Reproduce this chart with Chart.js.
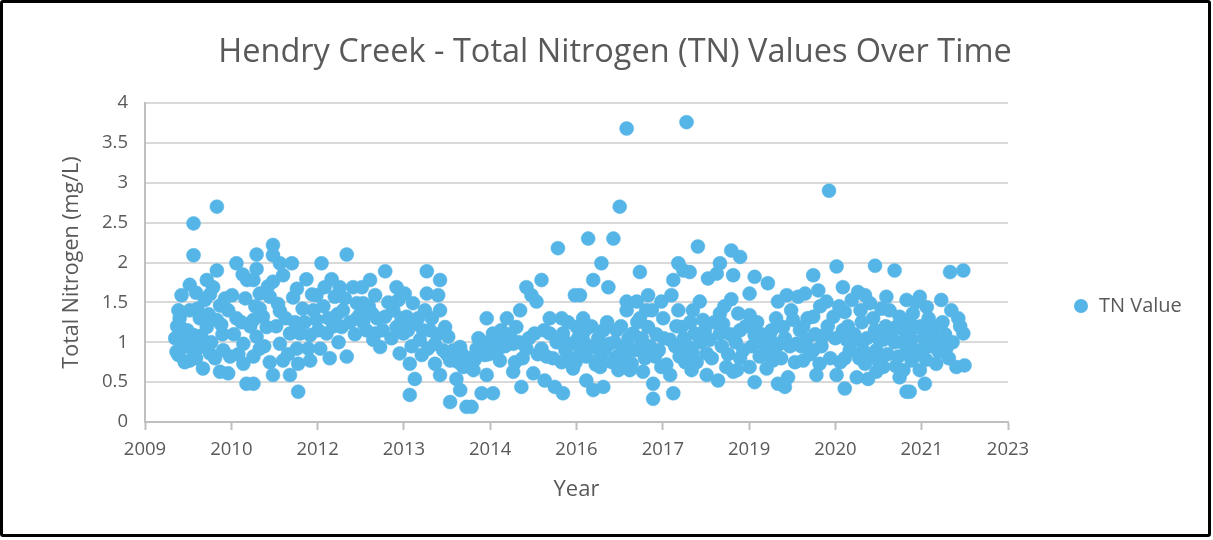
<!DOCTYPE html>
<html><head><meta charset="utf-8">
<script src="https://cdn.jsdelivr.net/npm/chart.js@4.4.1/dist/chart.umd.min.js"></script>
<style>
html,body{margin:0;padding:0;background:#fff;}
#wrap{position:relative;width:1213px;height:540px;overflow:hidden;background:#fff;}
#c{position:absolute;left:0;top:0;}
#frame{position:absolute;left:0;top:0;width:1211px;height:537px;border:3px solid #000;box-sizing:border-box;pointer-events:none;border-radius:3px;}
</style></head><body>
<div id="wrap"><canvas id="c" width="1213" height="540"></canvas><div id="frame"></div></div>
<script>
const chartTitle = 'Hendry Creek - Total Nitrogen (TN) Values Over Time';
const seriesName = 'TN Value';
const xTitle = 'Year';
const yTitle = 'Total Nitrogen (mg/L)';
const tickLabels = ['2009','2010','2012','2013','2014','2016','2017','2019','2020','2021','2023'];
const X_MIN = 2009.47;
const X_STEP = 500 / 365.25;

// sample dates (decimal years)
const sampleYears = [
 2010.61,2010.24,2010.24,2010.92,2010.61,2011.02,2011.09,2010.45,2010.18,2010.05,
 2010.55,2010.85,2010.42,2010.00,2010.18,2010.66,2010.79,2010.92,2010.34,2010.03,
 2010.45,2010.61,2010.24,2011.03,2010.08,2010.00,2010.34,2010.50,2010.18,2010.39,
 2010.71,2010.82,2010.66,2010.79,2011.03,2011.08,2009.98,2009.97,2010.12,2010.28,
 2010.50,2010.70,
 2011.50,2011.24,2011.50,2012.67,2011.24,2011.61,2011.80,2012.27,2011.19,2011.50,
 2011.66,2012.03,2012.43,2011.88,2011.29,2012.19,2012.32,2012.56,2012.77,2011.82,
 2011.45,2012.48,2011.29,2011.61,2012.14,2012.61,2012.83,2011.19,2011.40,2012.19,
 2012.59,2012.83,2011.24,2011.61,2011.77,2011.93,2012.09,2012.35,2012.54,2011.29,
 2011.19,2011.45,2011.66,2011.88,2012.06,2012.25,2012.09,2011.90,2012.40,2012.67,
 2011.50,2011.77,2011.19,2011.90,
 2013.28,2013.94,2013.04,2014.15,2012.91,2013.46,2013.12,2013.59,2013.94,2014.12,
 2012.93,2013.49,2013.72,2014.15,2013.07,2013.28,2013.41,2013.62,2013.91,2012.93,
 2013.46,2013.75,2013.99,2014.23,2013.12,2013.20,2013.09,2013.57,2013.83,2014.07,
 2014.28,2014.47,2013.51,2013.86,2013.67,2014.07,2014.31,2014.15,2014.52,2013.75,
 2014.41,2014.47,2013.67,2014.31,2014.57,
 2016.02,2015.76,2015.52,2015.60,2016.29,2015.68,2015.42,2014.89,2015.21,2015.89,
 2016.08,2014.99,2015.36,2015.65,2015.89,2016.10,2016.32,2015.15,2015.31,2015.52,
 2015.76,2016.21,2014.73,2014.86,2015.10,2015.84,2016.08,2016.26,2015.31,2015.63,
 2014.89,2014.68,2015.81,2015.97,2016.10,2015.44,2014.99,2014.81,2014.65,
 2017.11,2018.06,2017.00,2016.50,2016.90,2016.71,2017.32,2017.93,2016.58,2016.82,
 2017.85,2018.01,2016.37,2017.45,2017.82,2017.11,2017.27,2017.66,2017.11,2017.51,
 2017.93,2016.42,2017.32,2017.69,2016.74,2016.95,2017.45,2017.98,2017.21,2017.80,
 2016.42,2016.61,2016.84,2017.05,2017.32,2016.47,2016.69,2016.95,2017.19,2017.56,
 2017.95,2016.69,2017.37,2017.66,2017.80,2016.47,2016.74,2016.58,2017.53,2017.53,
 2017.85,
 2018.24,2018.77,2018.91,2018.59,2018.11,2018.40,2018.54,2018.80,2019.14,2019.35,
 2019.06,2018.77,2018.27,2019.51,2019.65,2019.83,2018.16,2018.32,2018.59,2018.88,
 2019.06,2018.64,2018.91,2019.14,2019.41,2019.59,2019.75,2018.19,2018.43,2018.59,
 2019.28,2019.54,2019.80,2018.16,2018.38,2018.69,2018.91,2019.22,2019.43,2018.14,
 2018.38,2018.56,2018.80,2019.06,2019.14,2019.33,2019.51,2019.67,2019.62,
 2020.32,2020.44,2021.05,2021.36,2020.07,2019.94,2020.15,2020.54,2020.78,2020.89,
 2021.23,2021.55,2020.28,2020.68,2020.97,2020.57,2021.15,2021.28,2020.07,2020.39,
 2020.84,2021.44,2019.91,2020.25,2020.54,2021.05,2021.52,2019.96,2020.60,2020.76,
 2021.18,2021.36,2020.07,2020.86,2021.07,2021.55,2019.91,2020.17,2020.57,2020.89,
 2021.18,2021.42,2020.12,2020.44,2020.57,2020.76,2020.94,2021.07,2021.44,2021.55,
 2022.24,2022.45,2021.76,2022.10,2022.26,2022.37,2022.45,2021.65,2021.87,2021.71,
 2021.92,2022.13,2022.18,2021.81,2021.63,2022.02,2021.76,2022.34,2022.47,2021.84,
 2021.60
];

// total nitrogen, mg/L
const tnValues = [
 2.70,2.49,2.09,1.99,1.90,1.85,1.78,1.78,1.72,1.59,
 1.69,1.59,1.53,1.40,1.40,1.46,1.40,1.30,1.30,1.19,
 1.19,1.28,1.09,0.98,0.94,0.84,0.94,0.86,0.77,0.67,
 0.90,0.82,0.63,0.61,0.73,0.48,1.20,0.88,1.05,0.80,
 1.60,1.10,
 2.22,2.10,2.09,2.10,1.92,1.99,1.99,1.99,1.78,1.76,
 1.84,1.79,1.79,1.67,1.61,1.59,1.69,1.69,1.69,1.56,
 1.57,1.57,1.42,1.39,1.40,1.40,1.49,1.28,1.19,1.28,
 1.19,1.30,1.07,0.98,1.11,1.11,1.09,1.11,1.00,0.92,
 0.82,0.75,0.77,0.92,0.92,0.92,0.77,0.73,0.80,0.82,
 0.59,0.59,0.48,0.38,
 1.89,1.89,1.78,1.78,1.69,1.69,1.59,1.61,1.61,1.59,
 1.49,1.53,1.49,1.40,1.36,1.32,1.40,1.32,1.40,1.25,
 1.19,1.23,1.15,1.19,1.11,0.94,1.03,1.11,1.03,0.98,
 1.07,0.94,0.86,0.84,0.73,0.73,0.77,0.59,0.69,0.54,
 0.54,0.40,0.34,0.25,0.19,
 2.18,1.78,1.69,1.59,1.59,1.51,1.40,1.30,1.30,1.30,
 1.30,1.11,1.19,1.11,1.11,1.11,1.19,1.03,0.98,0.92,
 0.92,0.98,0.92,0.84,0.77,0.82,0.75,0.67,0.63,0.61,
 0.59,0.65,0.52,0.44,0.36,0.44,0.36,0.36,0.19,
 3.68,3.76,2.70,2.30,2.30,1.99,1.88,1.99,1.78,1.69,
 1.78,1.90,1.59,1.59,1.59,1.51,1.51,1.51,1.40,1.40,
 1.40,1.30,1.30,1.30,1.15,1.15,1.19,1.19,1.11,1.03,
 1.03,0.94,0.98,0.94,0.94,0.82,0.82,0.82,0.73,0.82,
 0.82,0.69,0.63,0.69,0.59,0.52,0.44,0.40,0.48,0.29,
 0.36,
 2.20,2.15,2.07,1.99,1.88,1.80,1.86,1.84,1.82,1.74,
 1.61,1.54,1.51,1.51,1.59,1.57,1.40,1.28,1.36,1.36,
 1.34,1.23,1.15,1.09,1.15,1.19,1.28,1.11,1.03,1.11,
 0.98,0.98,0.98,0.86,0.86,0.69,0.80,0.82,0.77,0.65,
 0.59,0.52,0.63,0.69,0.50,0.67,0.48,0.56,0.44,
 2.90,1.95,1.96,1.90,1.84,1.61,1.65,1.69,1.63,1.59,
 1.57,1.53,1.51,1.53,1.49,1.38,1.42,1.40,1.32,1.32,
 1.25,1.32,1.19,1.09,1.15,1.15,1.15,1.03,1.03,1.03,
 1.03,1.00,0.90,0.90,0.90,0.88,0.77,0.73,0.80,0.73,
 0.69,0.82,0.59,0.59,0.42,0.56,0.54,0.63,0.56,0.38,
 1.88,1.90,1.57,1.53,1.40,1.30,1.11,1.36,1.44,1.19,
 1.15,1.03,0.92,0.90,0.77,0.73,0.65,0.69,0.71,0.48,
 0.38
];

// further samples read inside the dense clusters: [decimal year, mg/L]
const clusterSamples = [
 [2009.95,1.05],[2010.02,1.30],[2010.10,0.75],[2010.14,1.15],[2010.22,0.92],[2010.30,1.42],
 [2010.36,1.08],[2010.48,1.35],[2010.52,1.00],[2010.58,0.80],[2010.68,1.22],[2010.74,1.55],
 [2010.88,1.10],[2010.95,0.85],[2011.00,1.25],[2011.06,1.55],[2010.28,1.62],[2010.40,0.95],
 [2011.14,1.20],[2011.22,1.45],[2011.34,1.32],[2011.36,0.95],[2011.42,1.70],[2011.55,1.20],
 [2011.58,1.48],[2011.70,1.30],[2011.74,0.85],[2011.85,1.25],[2011.97,1.42],[2012.00,1.25],
 [2012.12,1.60],[2012.22,1.15],[2012.30,1.45],[2012.38,1.30],[2012.46,1.20],[2012.52,1.35],
 [2012.64,1.55],[2012.72,1.25],[2012.80,1.10],[2012.88,1.35],
 [2012.98,1.15],[2013.02,1.45],[2013.15,1.30],[2013.24,1.15],[2013.33,1.50],[2013.38,1.05],
 [2013.54,1.30],[2013.64,1.15],[2013.70,0.95],[2013.80,1.30],[2013.88,1.15],[2013.96,0.92],
 [2014.02,1.30],[2014.10,1.10],[2014.20,0.90],[2014.26,0.85],[2014.36,0.90],[2014.44,0.75],
 [2014.50,0.85],[2014.58,0.80],
 [2014.62,0.80],[2014.70,0.78],[2014.76,1.05],[2014.84,1.00],[2014.92,0.85],[2014.96,0.95],
 [2015.04,1.00],[2015.06,0.90],[2015.12,1.15],[2015.18,0.95],[2015.26,1.10],[2015.34,0.75],
 [2015.40,1.00],[2015.46,0.80],[2015.56,1.05],[2015.70,0.85],[2015.80,1.15],[2015.94,0.80],
 [2016.00,1.00],[2016.14,0.90],[2016.18,1.25],[2016.24,0.80],[2016.30,0.75],[2016.34,1.05],
 [2016.38,0.90],[2016.45,1.15],[2016.52,0.95],[2016.55,1.20],[2016.62,0.72],[2016.66,1.05],
 [2016.76,0.90],[2016.80,1.25],[2016.88,0.75],[2016.92,1.00],[2016.98,0.65],[2017.02,1.20],
 [2017.08,0.80],[2017.14,1.05],[2017.16,0.65],[2017.24,0.90],[2017.28,1.25],[2017.35,1.05],
 [2017.40,0.80],[2017.42,1.40],[2017.48,0.95],[2017.58,1.10],[2017.62,0.90],[2017.70,1.05],
 [2017.74,0.72],[2017.88,0.95],[2017.90,1.20],[2018.02,1.05],[2018.04,0.75],
 [2018.08,0.95],[2018.12,1.25],[2018.22,0.75],[2018.28,1.00],[2018.35,1.15],[2018.46,0.80],
 [2018.50,1.25],[2018.62,0.95],[2018.66,1.45],[2018.72,0.85],[2018.75,1.10],[2018.84,1.00],
 [2018.86,0.65],[2018.96,0.90],[2019.00,1.20],[2019.10,0.95],[2019.18,1.25],[2019.25,1.10],
 [2019.30,0.85],[2019.38,1.05],[2019.46,0.90],[2019.48,1.30],[2019.56,0.80],[2019.62,1.05],
 [2019.70,0.95],[2019.72,1.40],[2019.78,0.75],[2019.86,1.15],
 [2019.88,0.95],[2019.98,1.30],[2020.02,0.85],[2020.10,1.10],[2020.18,1.45],[2020.20,0.95],
 [2020.30,1.20],[2020.34,0.80],[2020.42,1.05],[2020.48,1.45],[2020.50,0.75],[2020.62,1.20],
 [2020.65,0.90],[2020.72,1.10],[2020.80,0.80],[2020.82,1.40],[2020.92,1.05],[2020.98,0.80],
 [2021.02,1.30],[2021.10,1.05],[2021.12,0.75],[2021.22,1.20],[2021.25,0.85],[2021.32,1.10],
 [2021.38,0.70],[2021.40,1.20],[2021.48,1.00],[2021.50,0.65],[2021.58,1.25],
 [2021.62,1.05],[2021.66,0.92],[2021.70,1.50],[2021.74,0.85],[2021.78,1.20],[2021.82,1.05],
 [2021.86,0.78],[2021.90,1.30],[2021.95,0.95],[2021.98,1.20],[2022.04,1.05],[2022.06,0.88],
 [2022.12,1.25],[2022.16,1.10],[2022.22,0.80],[2022.28,1.00],[2022.40,1.20]
];

const FONT = "'Open Sans', 'Liberation Sans', sans-serif";
const TEXT = '#595959';
const MARKER = '#55b5e7';
const points = sampleYears.map((x, i) => ({ x: x, y: tnValues[i] }))
  .concat(clusterSamples.map(p => ({ x: p[0], y: p[1] })));

const legendPlugin = {
  id: 'customLegend',
  afterDraw(chart) {
    const c = chart.ctx;
    c.save();
    c.fillStyle = MARKER;
    c.beginPath();
    c.arc(1081, 306, 7, 0, Math.PI * 2);
    c.fill();
    c.fillStyle = TEXT;
    c.font = "20px " + FONT;
    c.textBaseline = 'middle';
    c.textAlign = 'left';
    c.fillText(seriesName, 1099, 306);
    c.restore();
  }
};

new Chart(document.getElementById('c'), {
  type: 'scatter',
  data: { datasets: [{
    label: seriesName, data: points,
    backgroundColor: MARKER, borderColor: MARKER,
    pointRadius: 7, pointHoverRadius: 7, borderWidth: 0.5
  }]},
  options: {
    responsive: false, animation: false, devicePixelRatio: 1,
    layout: { padding: { left: 17, right: 0, top: 0, bottom: 0 } },
    plugins: {
      legend: { display: false },
      tooltip: { enabled: false },
      title: { display: true, text: chartTitle, color: TEXT,
        font: { family: FONT, size: 32.5, weight: 'normal' },
        padding: { top: 33, bottom: 31 } }
    },
    scales: {
      x: {
        type: 'linear', min: X_MIN, max: X_MIN + 10 * X_STEP,
        afterFit(s) { s.height = 118; },
        afterBuildTicks(s) { s.ticks = tickLabels.map((_, i) => ({ value: X_MIN + i * X_STEP })); },
        ticks: { callback: (v, i) => tickLabels[i], color: TEXT, autoSkip: false, maxRotation: 0,
          font: { family: FONT, size: 18.5 }, padding: 9 },
        grid: { drawOnChartArea: false, drawTicks: true, tickLength: 8, tickColor: '#bfbfbf', tickWidth: 2 },
        border: { display: true, color: '#bfbfbf', width: 2 },
        title: { display: true, text: xTitle, color: TEXT, font: { family: FONT, size: 22 }, padding: { top: 0, bottom: 37 } }
      },
      y: {
        min: 0, max: 4,
        afterFit(s) { s.width = 128; },
        ticks: { stepSize: 0.5, color: TEXT, font: { family: FONT, size: 18.5 }, padding: 17,
          callback: v => String(v) },
        grid: { color: '#d9d9d9', lineWidth: 2, drawTicks: false },
        border: { display: true, color: '#bfbfbf', width: 2 },
        title: { display: true, text: yTitle, color: TEXT, font: { family: FONT, size: 21.5 }, padding: { top: 42, bottom: 0 } }
      },
      yPad: {
        position: 'right', display: true,
        afterFit(s) { s.width = 205; },
        grid: { display: false }, ticks: { display: false }, border: { display: false }
      }
    }
  },
  plugins: [legendPlugin]
});
</script>
</body></html>
